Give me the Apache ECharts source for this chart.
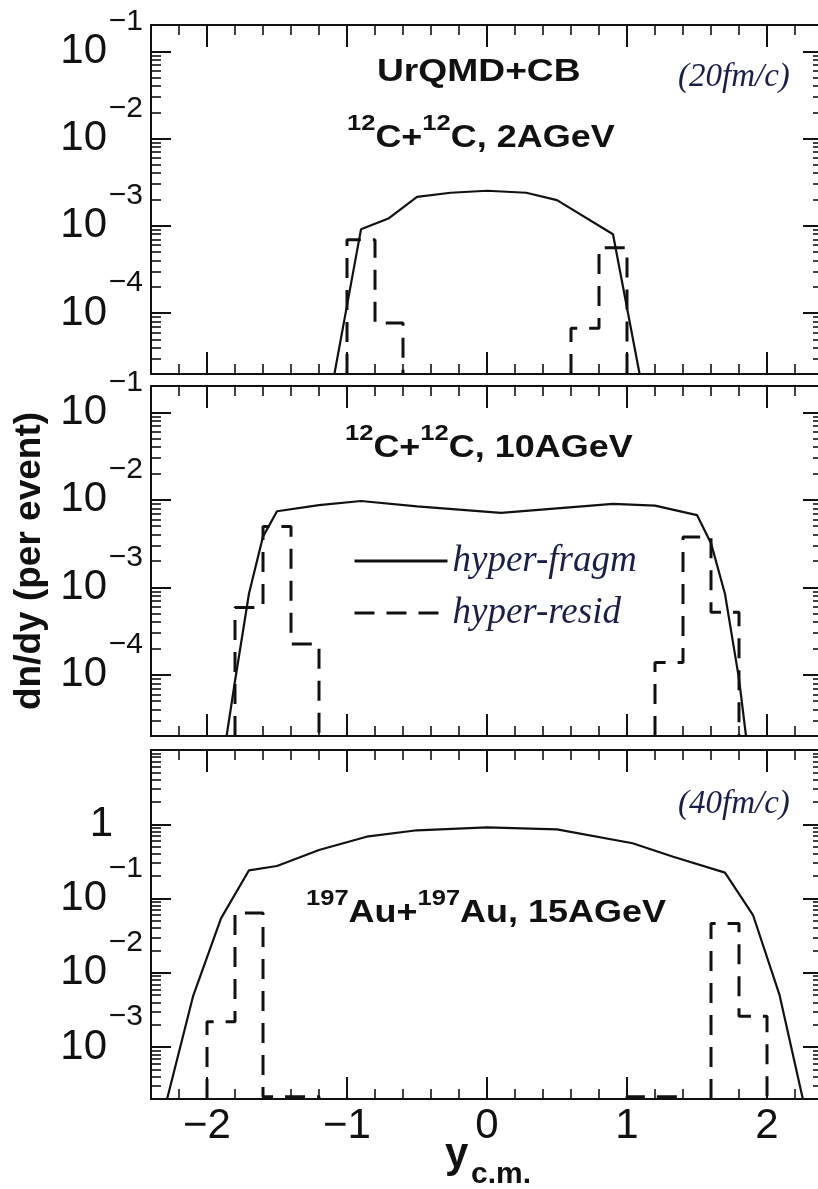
<!DOCTYPE html>
<html>
<head>
<meta charset="utf-8">
<script src="https://cdn.jsdelivr.net/npm/echarts@6/dist/echarts.min.js"></script>
<style>
html,body{margin:0;padding:0;background:#fff;}
#chart{width:818px;height:1189px;}
</style>
</head>
<body>
<div id="chart"></div>
<script>
// ---------- data ----------
const xRange = [-2.4, 2.4];
const xTickValues = [-2, -1, 0, 1, 2];
const carbonRange = [2e-5, 0.2];
const goldRange = [2e-4, 10];
const carbonDecades = [1e-4, 1e-3, 1e-2, 1e-1];
const goldDecades = [1e-3, 1e-2, 1e-1, 1];
const residBinWidth = 0.2;
const seriesNames = ['hyper-fragm', 'hyper-resid'];

// panel 1: 12C+12C, 2 AGeV
const p1FragmX = [-1.09, -0.9, -0.7, -0.5, -0.26, 0, 0.28, 0.5, 0.9, 1.09];
const p1FragmY = [2e-5, 9.1e-4, 1.22e-3, 2.14e-3, 2.39e-3, 2.52e-3, 2.39e-3, 1.97e-3, 8.0e-4, 2e-5];
const p1ResidLo = [-1.0, -0.8, 0.6, 0.8];
const p1ResidVal = [6.9e-4, 7.7e-5, 6.7e-5, 5.6e-4];

// panel 2: 12C+12C, 10 AGeV
const p2FragmX = [-1.86, -1.8, -1.7, -1.6, -1.5, -1.2, -0.9, -0.5, 0.1, 0.5, 0.9, 1.2, 1.5, 1.6, 1.7, 1.8, 1.85];
const p2FragmY = [2e-5, 8.5e-5, 8.5e-4, 3.8e-3, 7.4e-3, 8.7e-3, 9.7e-3, 8.4e-3, 7.1e-3, 8.0e-3, 9.0e-3, 8.6e-3, 6.7e-3, 3.2e-3, 8.4e-4, 9e-5, 2e-5];
const p2ResidLo = [-1.8, -1.6, -1.4, 1.2, 1.4, 1.6];
const p2ResidVal = [5.9e-4, 4.97e-3, 2.25e-4, 1.38e-4, 3.75e-3, 5.2e-4];

// panel 3: 197Au+197Au, 15 AGeV
const p3FragmX = [-2.285, -2.1, -1.9, -1.7, -1.5, -1.2, -0.86, -0.5, 0, 0.5, 1.04, 1.33, 1.7, 1.9, 2.09, 2.256];
const p3FragmY = [2e-4, 4.8e-3, 0.054, 0.24, 0.274, 0.45, 0.68, 0.83, 0.91, 0.855, 0.555, 0.366, 0.223, 0.06, 5.0e-3, 2e-4];
const p3ResidLo = [-2.0, -1.8, -1.6, -1.4, 1.0, 1.2, 1.6, 1.8];
const p3ResidVal = [2.2e-3, 0.064, 2.14e-4, 2.14e-4, 2.14e-4, 2.14e-4, 0.046, 2.6e-3];

// ---------- helpers ----------
function pairs(xs, ys) { return xs.map((x, i) => [x, ys[i]]); }
function histSegments(lo, vals, floor) {
  const segs = []; let cur = null; let prevHi = null;
  lo.forEach((l, i) => {
    const hi = +(l + residBinWidth).toFixed(6);
    if (cur === null || Math.abs(l - prevHi) > 1e-6) {
      if (cur) { cur.push([prevHi, floor]); segs.push(cur); }
      cur = [[l, floor]];
    }
    cur.push([l, vals[i]]); cur.push([hi, vals[i]]);
    prevHi = hi;
  });
  if (cur) { cur.push([prevHi, floor]); segs.push(cur); }
  return segs;
}
function logMinor(r) {
  const a = [];
  const lo = Math.floor(Math.log10(r[0])), hi = Math.ceil(Math.log10(r[1]));
  for (let n = lo; n <= hi; n++) for (let k = 2; k <= 9; k++) {
    const v = +(k * Math.pow(10, n)).toPrecision(6);
    if (v > r[0] * 1.0001 && v < r[1] * 0.9999) a.push(v);
  }
  return a;
}
const xMinorTicks = [];
for (let i = -11; i <= 11; i++) if (i % 5 !== 0) xMinorTicks.push(+(i * 0.2).toFixed(1));

const panels = [
  {range: carbonRange, decades: carbonDecades, fx: p1FragmX, fy: p1FragmY, rlo: p1ResidLo, rv: p1ResidVal, showX: false},
  {range: carbonRange, decades: carbonDecades, fx: p2FragmX, fy: p2FragmY, rlo: p2ResidLo, rv: p2ResidVal, showX: false},
  {range: goldRange, decades: goldDecades, fx: p3FragmX, fy: p3FragmY, rlo: p3ResidLo, rv: p3ResidVal, showX: true}
];
const gridTops = [25, 386, 750];
const gridHeights = [349, 350, 349];

const INK = '#111';
const FONT = 'Liberation Sans';

function xAx(g, pos, ticks, len, showLine, showLabel, tw) {
  return {
    type: 'value', gridIndex: g, position: pos, min: xRange[0], max: xRange[1],
    axisLine: {show: showLine, onZero: false, lineStyle: {color: INK, width: 2}},
    axisTick: {show: true, inside: true, length: len, customValues: ticks, lineStyle: {color: INK, width: tw}},
    axisLabel: showLabel ? {
      show: true, customValues: xTickValues, margin: 6,
      formatter: v => String(v).replace('-', '\u2212'),
      fontSize: 42, fontFamily: FONT, color: INK
    } : {show: false},
    splitLine: {show: false}, minorTick: {show: false}
  };
}
function yAx(g, pos, range, ticks, len, showLine, label, tw) {
  return {
    type: 'log', logBase: 10, gridIndex: g, position: pos, min: range[0], max: range[1],
    axisLine: {show: showLine, onZero: false, lineStyle: {color: INK, width: 2}},
    axisTick: {show: true, inside: true, length: len, customValues: ticks, lineStyle: {color: INK, width: tw}},
    axisLabel: label || {show: false},
    splitLine: {show: false}, minorTick: {show: false}
  };
}

const grids = [], xAxes = [], yAxes = [], series = [];
panels.forEach((p, i) => {
  grids.push({left: 151, right: -5, top: gridTops[i], height: gridHeights[i], containLabel: false, outerBoundsMode: 'none'});
  xAxes.push(xAx(i, 'bottom', xTickValues, 22, true, p.showX, 2));
  xAxes.push(xAx(i, 'bottom', xMinorTicks, 10, false, false, 1.6));
  xAxes.push(xAx(i, 'top', xTickValues, 22, true, false, 2));
  xAxes.push(xAx(i, 'top', xMinorTicks, 10, false, false, 1.6));
  const minor = logMinor(p.range);
  // mantissa labels ("10" / "1")
  const baseLabel = {
    show: true, customValues: p.decades, margin: 38, showMinLabel: true, showMaxLabel: true,
    fontSize: 42, fontFamily: FONT, color: INK,
    formatter: v => (Math.round(Math.log10(v)) === 0 ? '{t|1}' : '{t|10}{gap| }'),
    rich: {
      t: {fontSize: 42, fontFamily: FONT, color: INK},
      gap: {fontSize: 42, fontFamily: FONT, color: INK, width: 6}
    }
  };
  // exponent labels
  const expLabel = {
    show: true, customValues: p.decades, margin: 8, showMinLabel: true, showMaxLabel: true,
    fontSize: 30, fontFamily: FONT, color: INK, verticalAlign: 'bottom', lineHeight: 60,
    formatter: v => { const e = Math.round(Math.log10(v)); return e === 0 ? '' : '\u2212' + (-e); }
  };
  yAxes.push(yAx(i, 'left', p.range, p.decades, 20, true, baseLabel, 2));
  yAxes.push(yAx(i, 'left', p.range, minor, 10, false, expLabel, 1.6));
  yAxes.push(yAx(i, 'right', p.range, p.decades, 20, true, null, 2));
  yAxes.push(yAx(i, 'right', p.range, minor, 10, false, null, 1.6));

  series.push({
    type: 'line', name: seriesNames[0], xAxisIndex: 4 * i, yAxisIndex: 4 * i,
    data: pairs(p.fx, p.fy), symbol: 'none', clip: true, z: 3,
    lineStyle: {color: INK, width: 2.2}, itemStyle: {color: INK}
  });
  histSegments(p.rlo, p.rv, p.range[0]).forEach(seg => {
    series.push({
      type: 'line', name: seriesNames[1], xAxisIndex: 4 * i, yAxisIndex: 4 * i,
      data: seg, symbol: 'none', clip: true, z: 4,
      lineStyle: {color: INK, width: 3, type: [20, 12]}, itemStyle: {color: INK}
    });
  });
});

const boldTitle = '"Liberation Sans"';
const richSup = {
  m: {fontSize: 31, fontWeight: 'bold', fontFamily: FONT, fill: INK, lineHeight: 50},
  s: {fontSize: 22, fontWeight: 'bold', fontFamily: FONT, fill: INK, lineHeight: 22, verticalAlign: 'top'}
};
const NAVY = '#1a1f4a';

const option = {
  animation: false,
  backgroundColor: '#fff',
  textStyle: {fontFamily: FONT},
  grid: grids,
  xAxis: xAxes,
  yAxis: yAxes,
  legend: {
    data: seriesNames, orient: 'vertical', left: 353, top: 541, padding: 0,
    itemWidth: 93, itemHeight: 24, itemGap: 12, selectedMode: false,
    lineStyle: {width: 3, opacity: 1},
    itemStyle: {opacity: 0, borderWidth: 0},
    textStyle: {fontFamily: 'Liberation Serif', fontStyle: 'italic', fontSize: 37, color: NAVY, lineHeight: 40}
  },
  graphic: [
    {type: 'text', x: 377, y: 72, scaleX: 1.2, silent: true,
      style: {text: 'UrQMD+CB', font: 'bold 31px ' + boldTitle, fill: INK, align: 'left', verticalAlign: 'middle'}},
    {type: 'text', x: 347, y: 138, scaleX: 1.16, silent: true,
      style: {text: '{s|12}{m|C+}{s|12}{m|C, 2AGeV}', rich: richSup, align: 'left', verticalAlign: 'middle'}},
    {type: 'text', x: 345, y: 448, scaleX: 1.16, silent: true,
      style: {text: '{s|12}{m|C+}{s|12}{m|C, 10AGeV}', rich: richSup, align: 'left', verticalAlign: 'middle'}},
    {type: 'text', x: 306, y: 913, scaleX: 1.16, silent: true,
      style: {text: '{s|197}{m|Au+}{s|197}{m|Au, 15AGeV}', rich: richSup, align: 'left', verticalAlign: 'middle'}},
    {type: 'text', x: 678, y: 77, silent: true,
      style: {text: '(20fm/c)', font: 'italic 33px "Liberation Serif"', fill: NAVY, align: 'left', verticalAlign: 'middle'}},
    {type: 'text', x: 678, y: 804, silent: true,
      style: {text: '(40fm/c)', font: 'italic 33px "Liberation Serif"', fill: NAVY, align: 'left', verticalAlign: 'middle'}},
    {type: 'text', x: 30, y: 561, rotation: Math.PI / 2, silent: true,
      style: {text: 'dn/dy (per event)', font: 'bold 37px ' + boldTitle, fill: INK, align: 'center', verticalAlign: 'middle'}},
    {type: 'text', x: 445, y: 1155, silent: true,
      style: {text: 'y', font: 'bold 42px ' + boldTitle, fill: INK, align: 'left', verticalAlign: 'middle'}},
    {type: 'text', x: 471, y: 1175, silent: true,
      style: {text: 'c.m.', font: 'bold 30px ' + boldTitle, fill: INK, align: 'left', verticalAlign: 'middle'}}
  ],
  series: series
};

const chart = echarts.init(document.getElementById('chart'), null, {renderer: 'canvas'});
chart.setOption(option);
</script>
</body>
</html>
